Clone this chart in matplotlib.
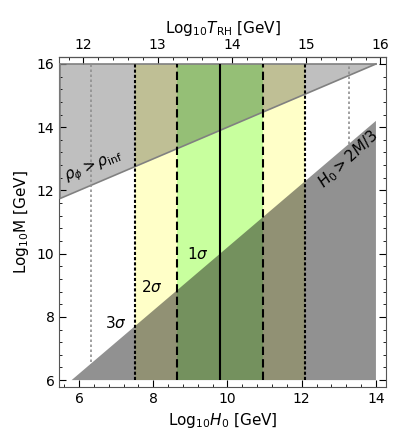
import matplotlib
matplotlib.use("Agg")
import matplotlib.pyplot as plt
from matplotlib.ticker import MultipleLocator

# sigma band edges in Log10 H0
center = 9.8
one_sigma = [8.63, 10.95]
two_sigma = [7.5, 12.1]
three_sigma = [6.33, 13.27]

# constraint regions (Log10 H0, Log10 M)
upper_x = [5.5, 5.5, 14.0]
upper_y = [11.75, 16.0, 16.0]
lower_x = [5.8, 14.0, 14.0]
lower_y = [6.0, 14.2, 6.0]

def lower_line(h):
    return h + 0.2

fig = plt.figure(figsize=(4.15, 4.42), dpi=100)
ax = fig.add_axes([0.143, 0.125, 0.787, 0.746])
ax.set_xlim(5.47, 14.27)
ax.set_ylim(5.79, 16.22)

ax.fill_between(two_sigma, 6, 16, color="#ffffc8", lw=0, zorder=1)
ax.fill_between(one_sigma, 6, 16, color="#c8ff9e", lw=0, zorder=1)

ax.fill(upper_x, upper_y, facecolor="black", alpha=0.25, edgecolor="none", zorder=2)
ax.plot([5.5, 14.0], [upper_y[0], 16.0], color="#808080", lw=1.2, zorder=3)
ax.plot([5.5, 14.0], [16.0, 16.0], color="#808080", lw=1.2, zorder=3)
ax.plot([5.5, 5.5], [upper_y[0], 16.0], color="#808080", lw=1.2, zorder=3)
ax.fill(lower_x, lower_y, facecolor="#1a1a1a", alpha=0.48, edgecolor="none", zorder=2)

ax.vlines(center, 6, 16, color="black", lw=1.5, zorder=4)
ax.vlines(one_sigma, 6, 16, color="black", lw=1.5, linestyles=(0, (4, 2)), zorder=4)
ax.vlines(two_sigma, 6, 16, color="black", lw=1.5, linestyles=(0, (1.5, 1)), zorder=4)
ax.vlines(three_sigma[0], lower_line(three_sigma[0]) - 0.1, 16, color="#909090", lw=1.2,
          linestyles=(0, (1.5, 1.5)), zorder=4)
ax.vlines(three_sigma[1], lower_line(three_sigma[1]), 16, color="#909090", lw=1.2,
          linestyles=(0, (1.5, 1.5)), zorder=4)

ax.text(7.0, 7.8, r"3$\sigma$", fontsize=11, ha="center", va="center", zorder=5)
ax.text(7.95, 8.95, r"2$\sigma$", fontsize=11, ha="center", va="center", zorder=5)
ax.text(9.2, 10.0, r"1$\sigma$", fontsize=11, ha="center", va="center", zorder=5)
ax.text(6.4, 12.75, r"$\rho_\phi > \rho_{\rm inf}$", fontsize=11, rotation=22,
        ha="center", va="center", zorder=5)
ax.text(13.25, 13.0, r"$H_0 > 2M/3$", fontsize=11, rotation=43,
        ha="center", va="center", zorder=5)

ax.xaxis.set_major_locator(MultipleLocator(2))
ax.xaxis.set_minor_locator(MultipleLocator(0.4))
ax.yaxis.set_major_locator(MultipleLocator(2))
ax.yaxis.set_minor_locator(MultipleLocator(0.4))
ax.tick_params(which="both", direction="in", right=True, labelsize=10)
ax.tick_params(which="major", length=5)
ax.tick_params(which="minor", length=2.5)
for s in ax.spines.values():
    s.set_color("#555555")
ax.set_xlabel(r"Log$_{10}$$H_0$ [GeV]", fontsize=11)
ax.set_ylabel(r"Log$_{10}$M [GeV]", fontsize=11)

top = ax.secondary_xaxis("top", functions=(lambda h: 12 + (h - 6.12) / 2,
                                           lambda t: 6.12 + 2 * (t - 12)))
top.xaxis.set_major_locator(MultipleLocator(1))
top.xaxis.set_minor_locator(MultipleLocator(0.2))
top.tick_params(which="both", direction="in", labelsize=10)
top.tick_params(which="major", length=5)
top.tick_params(which="minor", length=2.5)
top.set_xlabel(r"Log$_{10}$$T_{\rm RH}$ [GeV]", fontsize=11)

fig.savefig("out.png", dpi=100)
